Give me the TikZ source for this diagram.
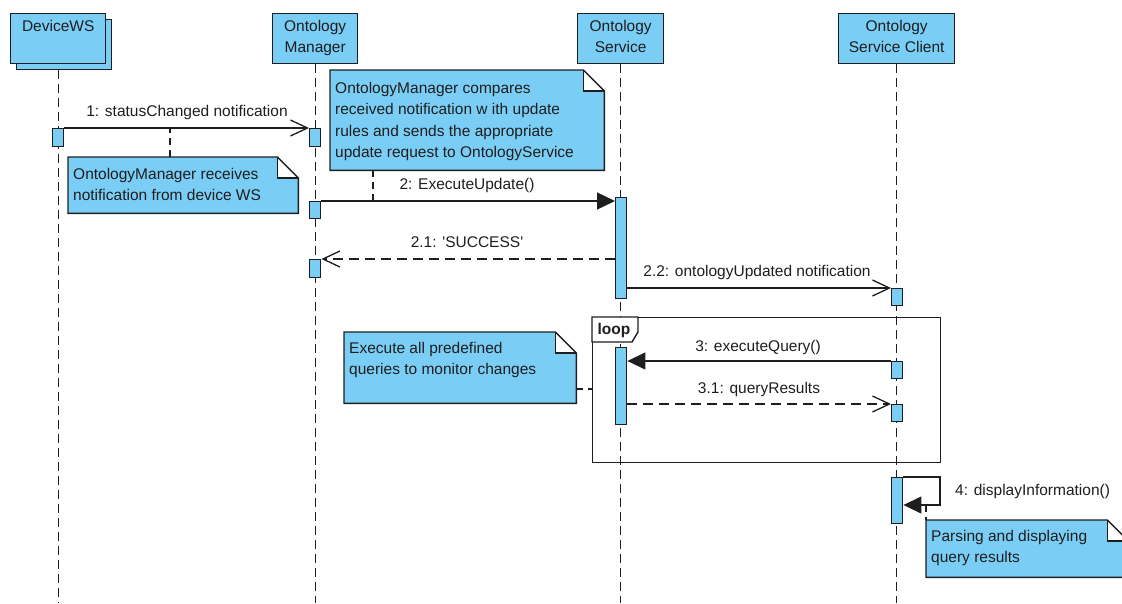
\documentclass[tikz,border=0pt]{standalone}
\usepackage{fontspec}
\setmainfont{Liberation Sans}
\usetikzlibrary{arrows.meta}
\definecolor{vpblue}{RGB}{122,206,245}
\definecolor{ink}{RGB}{30,30,30}

% UML note: body node, folded corner, and its text
\newcommand\umlnote[7]{% name, x, y, width, height, top pad, text
  \node[notebody, minimum width=#4pt, minimum height=#5pt] (#1) at (#2,#3) {};
  \fill[white] ([xshift=-21pt]#1.north east) rectangle ([yshift=-21pt]#1.north east);
  \draw[edge] (#1.north west) -- ([xshift=-21pt]#1.north east) -- ([yshift=-21pt]#1.north east)
    -- (#1.south east) -- (#1.south west) -- cycle;
  \draw[edge] ([xshift=-21pt]#1.north east) |- ([yshift=-21pt]#1.north east);
  \node[notetext] (#1text) at ([xshift=5pt,yshift=-#6pt]#1.north west) {#7};
}

\begin{document}
\begin{tikzpicture}[x=1pt,y=-1pt,
  font=\fontsize{15.5}{21.5}\selectfont,
  every node/.style={inner sep=0pt, text=ink},
  edge/.style={draw=ink, line width=1.4pt},
  headbox/.style={edge, fill=vpblue, anchor=north west, minimum height=50pt},
  headtext/.style={anchor=north, align=center},
  act/.style={edge, fill=vpblue, anchor=north west, minimum width=11pt},
  lifeline/.style={draw=ink, line width=1.3pt, dash pattern=on 9pt off 5pt},
  msg/.style={draw=ink, line width=1.3pt},
  asyncmsg/.style={msg, -{Straight Barb[length=17pt,width=16pt]}},
  syncmsg/.style={msg, -{Triangle[length=18pt,width=17pt]}},
  replymsg/.style={msg, dash pattern=on 10pt off 6pt, -{Straight Barb[length=17pt,width=16pt]}},
  anchorline/.style={draw=ink, line width=1.3pt, dash pattern=on 7pt off 5pt},
  notebody/.style={fill=vpblue, anchor=north west},
  notetext/.style={anchor=north west, align=left},
  lbl/.style={anchor=base}
]
\useasboundingbox (0,0) rectangle (1122,603);

% lifeline heads
\node[headbox, minimum width=95pt] (devshadow) at (16,19) {};
\node[headbox, minimum width=95pt] (dev) at (10,13) {};
\node[headbox, minimum width=85pt] (man) at (272,13) {};
\node[headbox, minimum width=86pt] (svc) at (577,13) {};
\node[headbox, minimum width=116pt] (cli) at (838,13) {};
\node[headtext] (devlbl) at ([yshift=-7pt]dev.north) {DeviceWS};
\node[headtext] (manlbl) at ([yshift=-7pt]man.north) {Ontology\\Manager};
\node[headtext] (svclbl) at ([yshift=-7pt]svc.north) {Ontology\\Service};
\node[headtext] (clilbl) at ([yshift=-7pt]cli.north) {Ontology\\Service Client};

% lifelines
\coordinate (bottom) at (0,603);
\draw[lifeline] (dev.south |- devshadow.south) -- (dev.south |- bottom);
\draw[lifeline] (man.south) -- (man.south |- bottom);
\draw[lifeline] (svc.south) -- (svc.south |- bottom);
\draw[lifeline] (cli.south) -- (cli.south |- bottom);

% loop combined fragment
\node[edge, anchor=north west, minimum width=348pt, minimum height=145pt] (loop) at (592,317) {};
\filldraw[edge, fill=white] (loop.north west) -- ++(46,0) -- ++(0,15) -- ++(-6,10) -- ++(-40,0) -- cycle;
\node[font=\fontsize{15.5}{18}\selectfont\bfseries] (looplbl) at (614,330) {loop};

% activations
\node[act, minimum height=18pt] (d1) at (52,128) {};
\node[act, minimum height=18pt] (m1) at (309,128) {};
\node[act, minimum height=17pt] (m2) at (309,201) {};
\node[act, minimum height=18pt] (m3) at (309,259) {};
\node[act, minimum height=101pt] (s1) at (615,197) {};
\node[act, minimum height=17pt] (c1) at (891,288) {};
\node[act, minimum height=77pt] (s2) at (615,347) {};
\node[act, minimum height=17pt] (c2) at (891,361) {};
\node[act, minimum height=17pt] (c3) at (891,404) {};
\node[act, minimum height=46pt] (c4) at (891,477) {};

% messages
\draw[asyncmsg] (d1.north east) -- (m1.north west);
\draw[syncmsg] (m2.north east) -- (m2.north east -| s1.west);
\draw[replymsg] (s1.west |- m3.north) -- (m3.north east);
\draw[asyncmsg] (c1.north west -| s1.east) -- (c1.north west);
\draw[syncmsg] (c2.north west) -- (c2.north west -| s2.east);
\draw[replymsg] (c3.north west -| s2.east) -- (c3.north west);
\coordinate (selfturn) at (940,505);
\draw[syncmsg] (c4.north east) -| (selfturn) -- (selfturn -| c4.east);

% message labels
\node[lbl] (t1) at (187,116) {1: statusChanged notification};
\node[lbl] (t2) at (467,189) {2: ExecuteUpdate()};
\node[lbl] (t21) at (467,247) {2.1: \textquotesingle SUCCESS\textquotesingle};
\node[lbl] (t22) at (757,276) {2.2: ontologyUpdated notification};
\node[lbl] (t3) at (758,351) {3: executeQuery()};
\node[lbl] (t31) at (759,393) {3.1: queryResults};
\node[anchor=base west] (t4) at (955,495) {4: displayInformation()};

% notes
\umlnote{n1}{68}{157}{230}{56}{11}{OntologyManager receives\\notification from device WS}
\umlnote{n2}{330}{70}{274}{100}{12}{OntologyManager compares\\received notification w ith update\\rules and sends the appropriate\\update request to OntologyService}
\umlnote{n3}{344}{332}{232}{71}{10}{Execute all predefined\\queries to monitor changes}
\umlnote{n4}{926}{520}{202}{57}{10}{Parsing and displaying\\query results}

% note anchors
\coordinate (k1) at (170,129);
\draw[anchorline] (n1.north -| k1) -- (k1);
\coordinate (k2) at (373,201);
\draw[anchorline] (n2.south -| k2) -- (k2);
\coordinate (k3) at (576,389);
\draw[anchorline] (k3) -- (k3 -| loop.west);
\coordinate (k4) at (926,505);
\draw[anchorline] (k4) -- (k4 |- n4.north);
\end{tikzpicture}
\end{document}
